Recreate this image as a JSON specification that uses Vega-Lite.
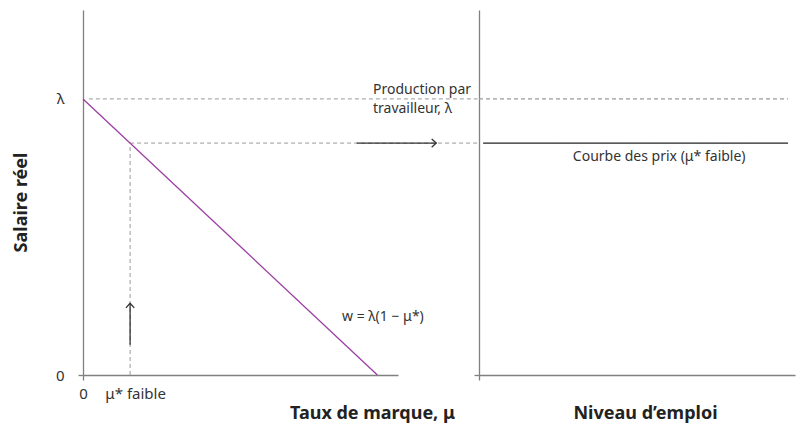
{
  "$schema": "https://vega.github.io/schema/vega-lite/v6.json",
  "padding": {"left": 12, "top": 10, "right": 5, "bottom": 5},
  "background": "white",
  "datasets": {
    "leftDashed": [
      {"x": 0.02, "y": 1, "x2": 1.34, "y2": 1},
      {"x": 0.16, "y": 0.84, "x2": 1.34, "y2": 0.84},
      {"x": 0.16, "y": 0, "x2": 0.16, "y2": 0.84}
    ],
    "markupLine": [
      {"x": 0, "y": 1, "x2": 1, "y2": 0}
    ],
    "leftArrows": [
      {"x": 0.93, "y": 0.84, "x2": 1.2, "y2": 0.84, "angle": 90},
      {"x": 0.16, "y": 0.11, "x2": 0.16, "y2": 0.26, "angle": 0}
    ],
    "leftLabels": [
      {"x": 0.985, "y": 1.032, "text": "Production par"},
      {"x": 0.985, "y": 0.963, "text": "travailleur, λ"},
      {"x": 0.88, "y": 0.21, "text": "w = λ(1 − μ*)"}
    ],
    "rightLines": [
      {"x": 0, "y": 1, "x2": 0.978, "y2": 1, "kind": "dashed"},
      {"x": 0.013, "y": 0.84, "x2": 0.978, "y2": 0.84, "kind": "solid"}
    ],
    "rightLabels": [
      {"x": 0.297, "y": 0.79, "text": "Courbe des prix (μ* faible)"}
    ]
  },
  "hconcat": [
    {
      "width": 315,
      "height": 365,
      "encoding": {
        "x": {
          "field": "x", "type": "quantitative",
          "scale": {"domain": [0, 1.07], "nice": false, "zero": false},
          "axis": {
            "values": [0, 0.16],
            "labelExpr": "datum.value == 0 ? '0' : 'μ* faible'",
            "labelFlush": false,
            "labelPadding": 6,
            "labelOffset": {"condition": {"test": "datum.value == 0", "value": 0}, "value": 5},
            "tickOpacity": {"condition": {"test": "datum.value == 0", "value": 1}, "value": 0},
            "title": "Taux de marque, μ",
            "titleX": 289,
            "titleY": 43,
            "titleAlign": "center",
            "titleBaseline": "alphabetic"
          }
        },
        "y": {
          "field": "y", "type": "quantitative",
          "scale": {"domain": [0, 1.322], "nice": false, "zero": false},
          "axis": {
            "values": [0, 1],
            "labelExpr": "datum.value == 1 ? 'λ' : '0'",
            "labelFlush": false,
            "labelPadding": 14,
            "tickOpacity": {"condition": {"test": "datum.value == 0", "value": 1}, "value": 0},
            "title": "Salaire réel",
            "titleX": -62,
            "titleY": 192,
            "titleAlign": "center",
            "titleBaseline": "middle"
          }
        }
      },
      "layer": [
        {
          "data": {"name": "leftDashed"},
          "mark": {"type": "rule", "color": "#9a9a9a", "strokeDash": [4, 3], "strokeWidth": 1},
          "encoding": {"x2": {"field": "x2"}, "y2": {"field": "y2"}}
        },
        {
          "data": {"name": "markupLine"},
          "mark": {"type": "rule", "color": "#9b3fa3", "strokeWidth": 1.3},
          "encoding": {"x2": {"field": "x2"}, "y2": {"field": "y2"}}
        },
        {
          "data": {"name": "leftArrows"},
          "mark": {"type": "rule", "color": "#333333", "strokeWidth": 1.3},
          "encoding": {"x2": {"field": "x2"}, "y2": {"field": "y2"}}
        },
        {
          "data": {"name": "leftArrows"},
          "mark": {"type": "point", "shape": "M-1,1.1L0,0L1,1.1", "filled": false, "size": 70, "color": "#333333", "strokeWidth": 1.3, "opacity": 1},
          "encoding": {
            "x": {"field": "x2", "type": "quantitative"},
            "y": {"field": "y2", "type": "quantitative"},
            "angle": {"field": "angle", "type": "quantitative", "scale": null}
          }
        },
        {
          "data": {"name": "leftLabels"},
          "mark": {"type": "text", "align": "left", "baseline": "middle", "fontSize": 14, "color": "#333333"},
          "encoding": {"text": {"field": "text", "type": "nominal"}}
        }
      ]
    },
    {
      "width": 316,
      "height": 365,
      "encoding": {
        "x": {
          "field": "x", "type": "quantitative",
          "scale": {"domain": [0, 1], "nice": false, "zero": false},
          "axis": {
            "values": [0],
            "labels": false,
            "title": "Niveau d’emploi",
            "titleX": 166,
            "titleY": 43,
            "titleAlign": "center",
            "titleBaseline": "alphabetic"
          }
        },
        "y": {
          "field": "y", "type": "quantitative",
          "scale": {"domain": [0, 1.322], "nice": false, "zero": false},
          "axis": {"values": [0], "labels": false, "title": null}
        }
      },
      "layer": [
        {
          "data": {"name": "rightLines"},
          "mark": {"type": "rule", "strokeWidth": 1.2},
          "encoding": {
            "x2": {"field": "x2"},
            "y2": {"field": "y2"},
            "color": {"field": "kind", "type": "nominal", "scale": {"domain": ["dashed", "solid"], "range": ["#9a9a9a", "#222222"]}, "legend": null},
            "strokeDash": {"field": "kind", "type": "nominal", "scale": {"domain": ["dashed", "solid"], "range": [[4, 3], [1, 0]]}, "legend": null}
          }
        },
        {
          "data": {"name": "rightLabels"},
          "mark": {"type": "text", "align": "left", "baseline": "middle", "fontSize": 14, "color": "#333333"},
          "encoding": {"text": {"field": "text", "type": "nominal"}}
        }
      ]
    }
  ],
  "spacing": 81,
  "bounds": "flush",
  "config": {
    "font": "Noto Sans",
    "view": {"stroke": null},
    "axis": {
      "grid": false,
      "domainColor": "#808080",
      "domainWidth": 1.3,
      "tickColor": "#808080",
      "tickWidth": 1.3,
      "tickSize": 5,
      "labelFont": "Noto Sans",
      "labelFontSize": 15,
      "labelColor": "#333333",
      "titleFont": "Noto Sans",
      "titleFontSize": 18,
      "titleFontWeight": "bold",
      "titleColor": "#222222"
    }
  }
}
